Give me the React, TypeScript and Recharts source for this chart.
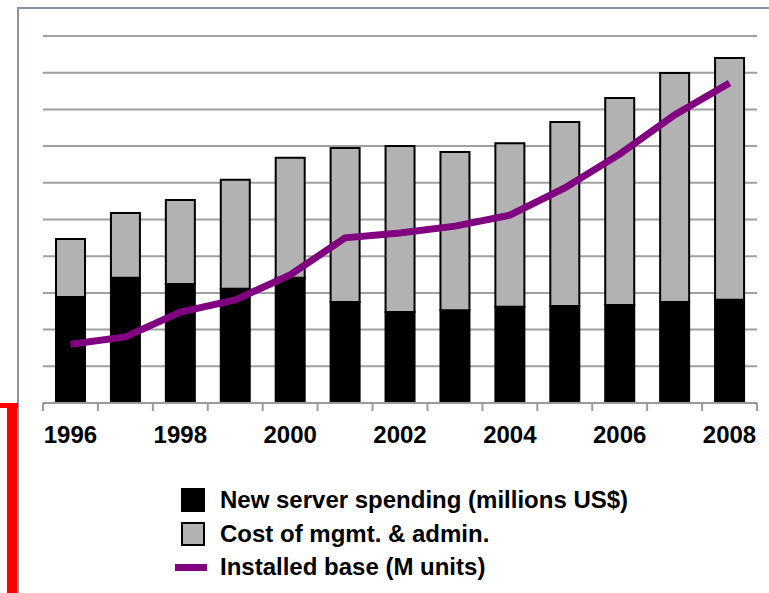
import React from 'react';
import {
  ComposedChart,
  Bar,
  Line,
  XAxis,
  YAxis,
  CartesianGrid,
} from 'recharts';

const years = ['1996', '1997', '1998', '1999', '2000', '2001', '2002', '2003', '2004', '2005', '2006', '2007', '2008'];
const newServer = [2.89, 3.41, 3.24, 3.11, 3.41, 2.75, 2.48, 2.53, 2.62, 2.64, 2.67, 2.75, 2.81];
const mgmtCost = [1.58, 1.77, 2.29, 2.97, 3.27, 4.2, 4.52, 4.31, 4.46, 5.02, 5.64, 6.24, 6.59];
const installedBase = [1.6, 1.8, 2.48, 2.81, 3.49, 4.5, 4.63, 4.82, 5.12, 5.86, 6.78, 7.85, 8.72];
const yTicks = [0, 1, 2, 3, 4, 5, 6, 7, 8, 9, 10];

const legendItems = [
  { label: 'New server spending (millions US$)', kind: 'black' },
  { label: 'Cost of mgmt. & admin.', kind: 'gray' },
  { label: 'Installed base (M units)', kind: 'line' },
];

const data = years.map((year, i) => ({
  year,
  newServer: newServer[i],
  mgmtCost: mgmtCost[i],
  installedBase: installedBase[i],
}));

const W = 769;
const H = 593;
const PLOT_LEFT = 43;
const PLOT_RIGHT = 757;
const BAND = (PLOT_RIGHT - PLOT_LEFT) / years.length;
const FONT = '"Liberation Sans", Arial, sans-serif';

const YearTick = (props: any) => {
  const { x, y, payload, index } = props;
  const half = BAND / 2;
  return (
    <g>
      <line x1={x - half} x2={x - half} y1={y - 8} y2={y} stroke="#9a9a9a" strokeWidth={2} />
      {index === years.length - 1 && (
        <line x1={x + half} x2={x + half} y1={y - 8} y2={y} stroke="#9a9a9a" strokeWidth={2} />
      )}
      {index % 2 === 0 && (
        <text x={x} y={y + 32} textAnchor="middle" fill="#000" fontSize={24} fontWeight="bold" fontFamily={FONT}>
          {payload.value}
        </text>
      )}
    </g>
  );
};

export default function App() {
  return (
    <div style={{ position: 'absolute', left: 0, top: 0, width: W, height: H, overflow: 'hidden', background: '#fff', fontFamily: FONT }}>
      {/* frame */}
      <div style={{ position: 'absolute', left: 17, top: 7, width: 800, height: 700, borderTop: '2px solid #8e90a8', borderLeft: '2px solid #8e90a8' }} />
      <div style={{ position: 'absolute', left: 0, top: 403, width: 18, height: 5, background: '#ff0000' }} />
      <div style={{ position: 'absolute', left: 7, top: 403, width: 10, height: 200, background: '#ff0000' }} />

      <div style={{ position: 'absolute', left: 0, top: 0 }}>
        <ComposedChart
          width={W}
          height={H}
          data={data}
          margin={{ top: 36, right: W - PLOT_RIGHT, left: PLOT_LEFT, bottom: 160 }}
          barCategoryGap={0}
        >
          <CartesianGrid horizontal vertical={false} stroke="#a0a0a0" strokeWidth={2} />
          <XAxis
            dataKey="year"
            height={30}
            interval={0}
            axisLine={{ stroke: '#9a9a9a', strokeWidth: 2 }}
            tickLine={false}
            tickSize={8}
            tickMargin={0}
            tick={<YearTick />}
          />
          <YAxis hide domain={[0, 10]} ticks={yTicks} />
          <Bar dataKey="newServer" stackId="a" fill="#000" stroke="#000" strokeWidth={2} barSize={29} isAnimationActive={false} />
          <Bar dataKey="mgmtCost" stackId="a" fill="#b2b2b2" stroke="#000" strokeWidth={2} barSize={29} isAnimationActive={false} />
          <Line dataKey="installedBase" type="linear" stroke="#800080" strokeWidth={7} dot={false} isAnimationActive={false} />
        </ComposedChart>
      </div>

      {/* legend */}
      {legendItems.map((item, i) => {
        const cy = 500 + i * 33.5;
        return (
          <React.Fragment key={item.label}>
            {item.kind === 'black' && (
              <div style={{ position: 'absolute', left: 181, top: cy - 12, width: 24, height: 24, background: '#000' }} />
            )}
            {item.kind === 'gray' && (
              <div style={{ position: 'absolute', left: 181, top: cy - 12, width: 20, height: 20, background: '#b2b2b2', border: '2px solid #000' }} />
            )}
            {item.kind === 'line' && (
              <div style={{ position: 'absolute', left: 175, top: cy - 3.5, width: 32, height: 7, background: '#800080' }} />
            )}
            <div style={{ position: 'absolute', left: 220, top: cy - 15, height: 30, lineHeight: '30px', fontSize: 24, fontWeight: 'bold', color: '#000', whiteSpace: 'nowrap' }}>
              {item.label}
            </div>
          </React.Fragment>
        );
      })}
    </div>
  );
}
